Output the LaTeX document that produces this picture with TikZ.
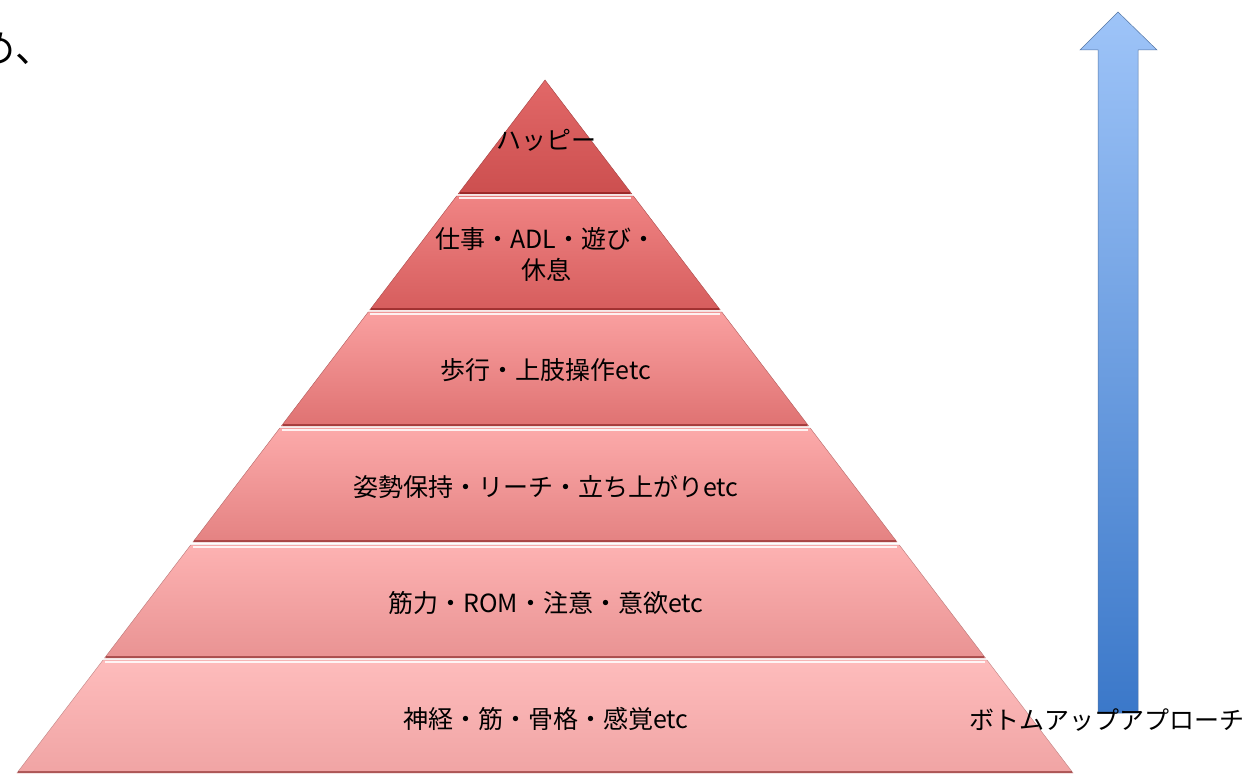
\documentclass[tikz,border=0pt]{standalone}
\usepackage{fontspec}
\newfontfamily\jp{Noto Sans CJK JP}
\begin{document}
\begin{tikzpicture}[x=1pt,y=-1pt,
  lbl/.style={font=\jp\fontsize{25}{31}\selectfont, text=black, align=center, inner sep=0pt},
  hilite/.style={draw=white, line width=2.2pt, opacity=0.85},
  lowline/.style={draw=red!40!black, line width=1.2pt, opacity=0.45}]
\useasboundingbox (0,0) rectangle (1250,775);
\fill[white] (0,0) rectangle (1250,775);
% colours
\definecolor{aT}{HTML}{E26868}\definecolor{aB}{HTML}{CC4F4F}
\definecolor{bT}{HTML}{F08484}\definecolor{bB}{HTML}{D65D5D}
\definecolor{cT}{HTML}{FAA0A0}\definecolor{cB}{HTML}{DF7272}
\definecolor{dT}{HTML}{FCAAAA}\definecolor{dB}{HTML}{E48282}
\definecolor{eT}{HTML}{FDB2B2}\definecolor{eB}{HTML}{E99393}
\definecolor{fT}{HTML}{FEBCBC}\definecolor{fB}{HTML}{F0A4A4}
\definecolor{arT}{HTML}{9EC4F8}\definecolor{arB}{HTML}{3B78C9}
% layer macro: top, bottom, topcolor, bottomcolor
\newcommand\pylayer[4]{%
  \pgfmathsetmacro\lt{545-(#1-80)*0.762}\pgfmathsetmacro\rt{545+(#1-80)*0.762}%
  \pgfmathsetmacro\lb{545-(#2-80)*0.762}\pgfmathsetmacro\rb{545+(#2-80)*0.762}%
  \shade[top color=#3, bottom color=#4, draw=#4!80!black, line width=0.4pt]
    (\lt,#1) -- (\rt,#1) -- (\rb,#2) -- (\lb,#2) -- cycle;
  \draw[lowline] (\lb+1.5,#2-1) -- (\rb-1.5,#2-1);
}
\pylayer{80}{194}{aT}{aB}
\pylayer{196}{310}{bT}{bB}
\pylayer{312}{426}{cT}{cB}
\pylayer{428}{542}{dT}{dB}
\pylayer{545}{658}{eT}{eB}
\pylayer{660}{773}{fT}{fB}
% top highlights
\foreach \t in {197,313,429,546,661}{
  \pgfmathsetmacro\lt{545-(\t-80)*0.762+3}\pgfmathsetmacro\rt{545+(\t-80)*0.762-3}
  \draw[hilite] (\lt,\t+1) -- (\rt,\t+1);
}
% texts
\node[lbl] (l1) at (546,140) {ハッピー};
\node[lbl] (l2) at (546,254) {仕事・ADL・遊び・\\休息};
\node[lbl] (l3) at (546,370) {歩行・上肢操作etc};
\node[lbl] (l4) at (546,487) {姿勢保持・リーチ・立ち上がりetc};
\node[lbl] (l5) at (546,603) {筋力・ROM・注意・意欲etc};
\node[lbl] (l6) at (546,719) {神経・筋・骨格・感覚etc};
% arrow
\shade[top color=arT, bottom color=arB, draw=arB!70!black!80, line width=0.5pt]
  (1098,713) -- (1098,50) -- (1080,50) -- (1118,12) -- (1157,50) -- (1138,50) -- (1138,713) -- cycle;
\node[lbl] (ba) at (1107,720) {ボトムアップアプローチ};
% partial text at top left
\node[lbl, font=\jp\fontsize{38}{44}\selectfont, anchor=west] (tl) at (-23,49) {め、};
\end{tikzpicture}
\end{document}
